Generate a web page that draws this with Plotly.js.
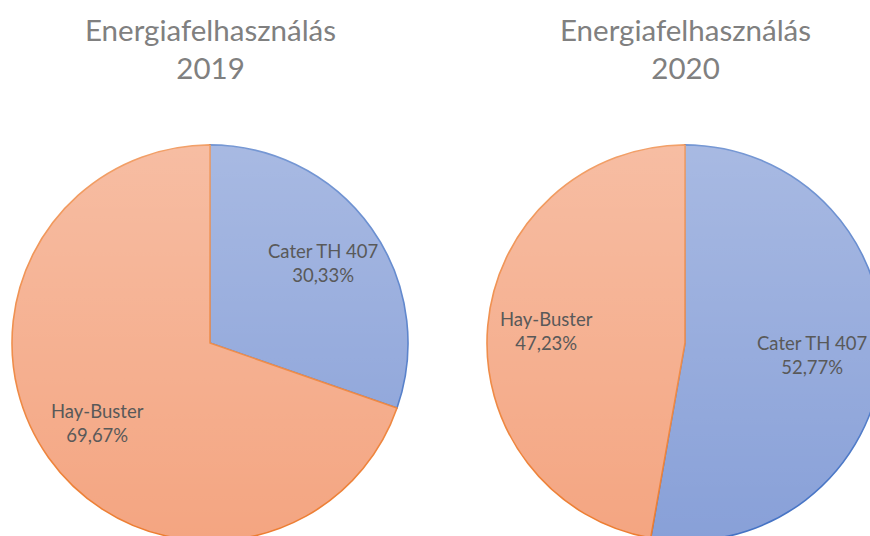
<!DOCTYPE html>
<html>
<head>
<meta charset="utf-8">
<script src="https://cdn.plot.ly/plotly-3.0.1.min.js"></script>
<style>
html,body{margin:0;padding:0;overflow:hidden;background:#fff;width:870px;height:536px;}
#chart{position:absolute;left:0;top:0;}
</style>
</head>
<body>
<div id="chart"></div>
<script>
const categories = ["Cater TH 407", "Hay-Buster"];
const values2019 = [30.33, 69.67];
const values2020 = [52.77, 47.23];
const years = ["2019", "2020"];
const chartTitle = "Energiafelhasználás";

const W = 900, H = 560;      // plot is larger than the 870x536 view, so the pies are cropped like the reference
const VIEW_W = 870;
const R = 198;
const centers = [[210, 343], [685, 343]];
const labelRadius = 0.70;
const labelHalfWidth = 56;
function dom(c) {
  return {
    x: [(c[0] - R) / W, (c[0] + R) / W],
    y: [(H - (c[1] + R)) / H, (H - (c[1] - R)) / H]
  };
}
const fillColors = ["#88a0d8", "#f4a581"];
const lineColors = ["#4472c4", "#ed7d31"];
const fontFam = "Lato, 'Noto Sans', sans-serif";
const labelColor = "#595959";

function pieTrace(vals, c) {
  return {
    type: "pie",
    labels: categories,
    values: vals,
    sort: false,
    direction: "clockwise",
    rotation: 0,
    domain: dom(c),
    marker: {colors: fillColors, line: {color: lineColors, width: 1.6}},
    textinfo: "none",
    hoverinfo: "label+percent",
    showlegend: false
  };
}

const allValues = [values2019, values2020];
const data = allValues.map((v, i) => pieTrace(v, centers[i]));

const annotations = years.map((y, i) => ({
  text: chartTitle + "<br>" + y,
  x: centers[i][0] / W,
  y: 1 - 48.5 / H,
  xref: "paper", yref: "paper",
  xanchor: "center", yanchor: "middle",
  showarrow: false,
  font: {family: fontFam, size: 29.5, color: "#808080"}
}));

// slice labels, placed at the mid-angle of each slice (clockwise from 12 o'clock)
allValues.forEach((vals, i) => {
  const total = vals.reduce((a, b) => a + b, 0);
  let acc = 0;
  vals.forEach((v, j) => {
    const mid = (acc + v / 2) / total * 2 * Math.PI;
    acc += v;
    let px = centers[i][0] + labelRadius * R * Math.sin(mid);
    const py = centers[i][1] - labelRadius * R * Math.cos(mid);
    px = Math.min(px, VIEW_W - labelHalfWidth - 2);
    const pct = (v / total * 100).toFixed(2).replace(".", ",");
    annotations.push({
      text: categories[j] + "<br>" + pct + "%",
      x: px / W, y: 1 - py / H,
      xref: "paper", yref: "paper",
      xanchor: "center", yanchor: "middle",
      showarrow: false,
      font: {family: fontFam, size: 18.5, color: labelColor}
    });
  });
});

const gradSvg = '<svg xmlns="http://www.w3.org/2000/svg" width="100" height="100" preserveAspectRatio="none">' +
  '<defs><linearGradient id="g" x1="0" y1="0" x2="0" y2="1">' +
  '<stop offset="0" stop-color="#ffffff" stop-opacity="0.27"/>' +
  '<stop offset="1" stop-color="#ffffff" stop-opacity="0"/>' +
  '</linearGradient></defs><rect width="100" height="100" fill="url(#g)"/></svg>';

const layout = {
  width: W, height: H,
  margin: {l: 0, r: 0, t: 0, b: 0},
  paper_bgcolor: "#ffffff",
  separators: ", ",
  annotations: annotations,
  images: [{
    source: "data:image/svg+xml;charset=utf-8," + encodeURIComponent(gradSvg),
    xref: "paper", yref: "paper",
    x: 0, y: 1 - (centers[0][1] - R) / H,
    sizex: 1, sizey: (2 * R) / H,
    xanchor: "left", yanchor: "top",
    sizing: "stretch",
    layer: "above"
  }],
  showlegend: false
};

Plotly.newPlot("chart", data, layout, {staticPlot: true, displayModeBar: false});
</script>
</body>
</html>
